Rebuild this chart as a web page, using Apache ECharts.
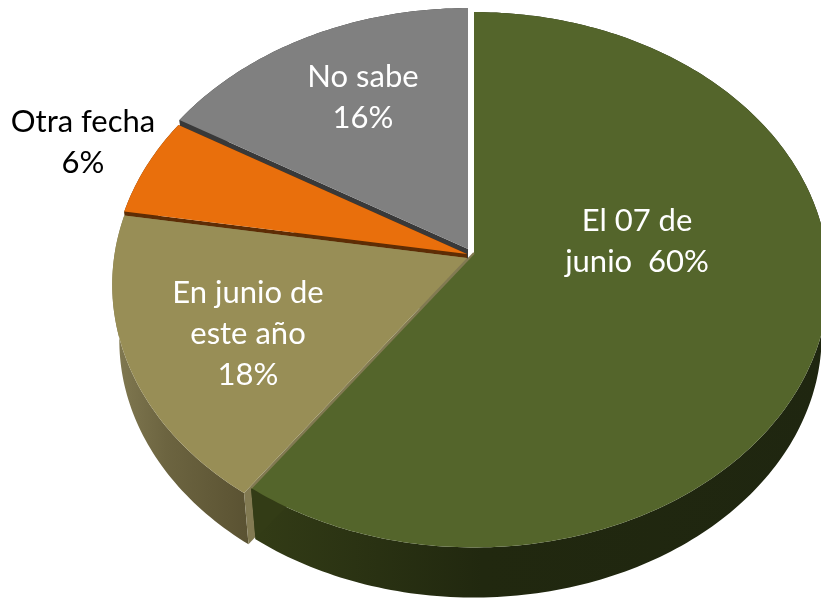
<!DOCTYPE html>
<html>
<head>
<meta charset="utf-8">
<script src="https://cdn.jsdelivr.net/npm/echarts@6/dist/echarts.min.js"></script>
<style>
html, body { margin: 0; padding: 0; background: #fff; overflow: hidden; }
#chart { width: 821px; height: 599px; }
</style>
</head>
<body>
<div id="chart"></div>
<script>
const categories = ['El 07 de\njunio ', 'En junio de\neste año', 'Otra fecha', 'No sabe']
const values = [59.85, 17.75, 5.95, 16.45]
const separators = [' ', '\n', '\n', '\n']

const colors = ['#54652b', '#988e56', '#e96f0c', '#808080']
const wallColors = [
  ['#333c16', '#21280f', '#1f2610'],
  ['#827a52', '#6c6440', '#5a5232'],
  ['#5e2d05', '#5e2d05', '#5e2d05'],
  ['#393939', '#393939', '#393939']
]
// 每块的偏移中心(爆炸效果)
const centers = [[474, 253], [467, 258], [467, 254], [468, 249]]
const labelPos = [[637, 241], [248, 334], [83, 142], [363, 97]]
const labelColors = ['#fff', '#fff', '#000', '#fff']

// 透视参数
const RX = 353
const RY = 265
const PERSP = 0.1
const DEPTH = 56
const SHRINK = 0.98

const total = values.reduce((a, b) => a + b, 0)
const starts = []
values.reduce((sum, v, i) => {
  starts[i] = (sum / total) * Math.PI * 2
  return sum + v
}, 0)

function project(center, angle, r, bottom) {
  const w = 1 + PERSP * r * Math.cos(angle)
  const s = bottom ? SHRINK : 1
  return [
    center[0] + (RX * s * r * Math.sin(angle)) / w,
    center[1] + (bottom ? DEPTH : 0) - (RY * s * r * Math.cos(angle)) / w
  ]
}

function arc(center, a0, a1, bottom) {
  const pts = []
  const n = Math.max(2, Math.ceil(((a1 - a0) * 180) / Math.PI))
  for (let i = 0; i <= n; i++) {
    pts.push(project(center, a0 + ((a1 - a0) * i) / n, 1, bottom))
  }
  return pts
}

function poly(points, fill) {
  return { type: 'polygon', shape: { points: points }, style: { fill: fill }, silent: true }
}

function renderSlice(params) {
  const i = values.length - 1 - params.dataIndex
  const c = centers[i]
  const a0 = starts[i]
  const a1 = a0 + (values[i] / total) * Math.PI * 2
  const wall = new echarts.graphic.LinearGradient(0, 0, 1, 0, [
    { offset: 0, color: wallColors[i][0] },
    { offset: 0.4, color: wallColors[i][1] },
    { offset: 1, color: wallColors[i][2] }
  ])
  const apex = project(c, a0, 0, false)
  const apexLow = project(c, a0, 0, true)
  const children = []
  // 侧面
  children.push(poly(arc(c, a0, a1, false).concat(arc(c, a0, a1, true).reverse()), wall))
  // 切面
  const faceColor = wallColors[i][0]
  children.push(poly([apex, project(c, a1, 1, false), project(c, a1, 1, true), apexLow], faceColor))
  children.push(poly([apex, project(c, a0, 1, false), project(c, a0, 1, true), apexLow], faceColor))
  // 顶面
  children.push(poly([apex].concat(arc(c, a0, a1, false)), colors[i]))
  if (i === 0) {
    // 和褐色块之间的细线
    children.push({
      type: 'polyline',
      silent: true,
      shape: { points: [apex, project(c, a1, 1, false)] },
      style: { stroke: wallColors[1][0], lineWidth: 2, fill: null }
    })
  }
  children.push({
    type: 'text',
    z2: 100,
    silent: true,
    style: {
      text: categories[i] + separators[i] + Math.round(values[i]) + '%',
      x: labelPos[i][0],
      y: labelPos[i][1],
      fill: labelColors[i],
      font: '31px Lato',
      lineHeight: 41,
      align: 'center',
      verticalAlign: 'middle'
    }
  })
  return { type: 'group', children: children }
}

const mChart = echarts.init(document.getElementById('chart'), null, { renderer: 'canvas' })
mChart.setOption({
  animation: false,
  backgroundColor: '#fff',
  series: [
    {
      type: 'custom',
      coordinateSystem: 'none',
      renderItem: renderSlice,
      data: values.slice().reverse()
    }
  ]
})
</script>
</body>
</html>
